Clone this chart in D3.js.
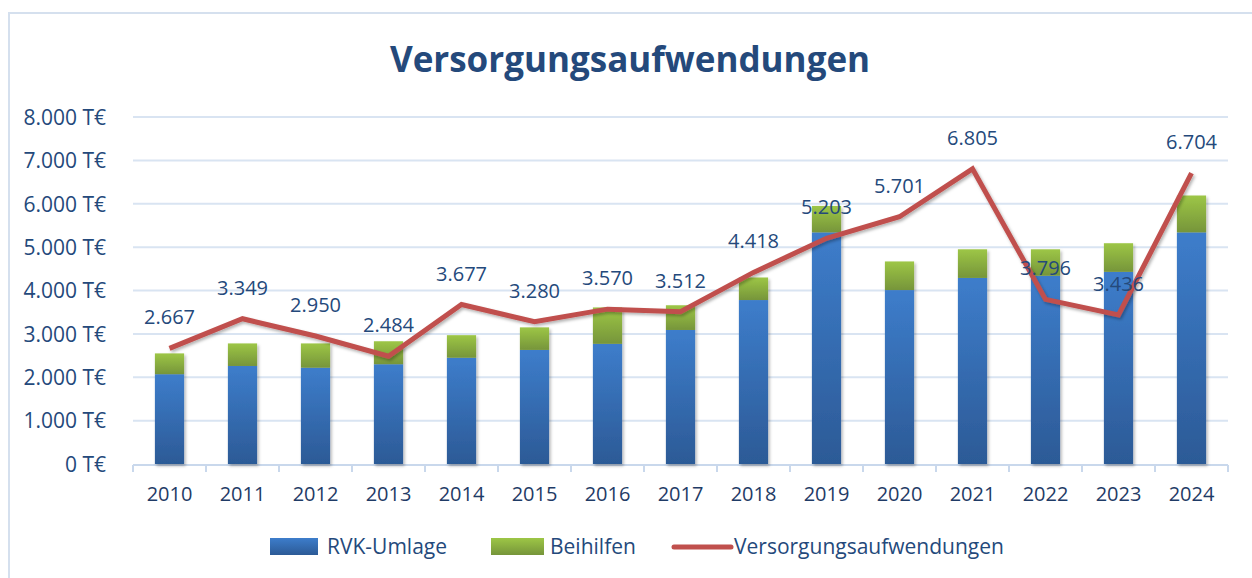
<!DOCTYPE html>
<html>
<head>
<meta charset="utf-8">
<script src="https://cdn.jsdelivr.net/npm/d3@7"></script>
<style>
  body { margin: 0; background: #fff; }
  svg { display: block; font-family: 'Open Sans', sans-serif; }
</style>
</head>
<body>
<svg id="chart"></svg>
<script>
const years = ['2010', '2011', '2012', '2013', '2014', '2015', '2016', '2017', '2018', '2019', '2020', '2021', '2022', '2023', '2024'];
const rvkUmlage = [2070, 2260, 2220, 2300, 2450, 2630, 2770, 3090, 3780, 5340, 4010, 4290, 4340, 4430, 5340];
const beihilfen = [480, 520, 560, 530, 520, 520, 840, 570, 520, 610, 660, 660, 610, 660, 850];
const versorgung = [2667, 3349, 2950, 2484, 3677, 3280, 3570, 3512, 4418, 5203, 5701, 6805, 3796, 3436, 6704];
const yTicks = [0, 1000, 2000, 3000, 4000, 5000, 6000, 7000, 8000];

const W = 1252, H = 578;
const svg = d3.select('#chart').attr('width', W).attr('height', H);
const navy = '#24497b';

const defs = svg.append('defs');
const gBlue = defs.append('linearGradient').attr('id', 'gBlue').attr('x1', 0).attr('y1', 0).attr('x2', 0).attr('y2', 1);
gBlue.append('stop').attr('offset', '0%').attr('stop-color', '#3d7dcb');
gBlue.append('stop').attr('offset', '100%').attr('stop-color', '#2c5a96');
const gGreen = defs.append('linearGradient').attr('id', 'gGreen').attr('x1', 0).attr('y1', 0).attr('x2', 0).attr('y2', 1);
gGreen.append('stop').attr('offset', '0%').attr('stop-color', '#9dc646');
gGreen.append('stop').attr('offset', '100%').attr('stop-color', '#76953a');
const shadow = defs.append('filter').attr('id', 'shadow').attr('x', '-20%').attr('y', '-20%').attr('width', '140%').attr('height', '140%');
shadow.append('feDropShadow').attr('dx', 1.5).attr('dy', 2).attr('stdDeviation', 1.5).attr('flood-color', '#000').attr('flood-opacity', 0.3);

// chart border
svg.append('rect').attr('x', 9).attr('y', 13).attr('width', W + 10).attr('height', H + 10)
  .attr('fill', 'none').attr('stroke', '#d5e0ee').attr('stroke-width', 2);

// title
svg.append('text').attr('x', 630).attr('y', 72).attr('text-anchor', 'middle')
  .attr('font-size', 35).attr('font-weight', 'bold').attr('fill', navy)
  .text('Versorgungsaufwendungen');

const plotL = 133, plotR = 1228, plotT = 117, plotB = 464;
const x = d3.scaleBand().domain(years).range([plotL, plotR]).paddingInner(0.6).paddingOuter(0.3);
const y = d3.scaleLinear().domain([0, 8000]).range([plotB, plotT]);

// gridlines
svg.append('g').selectAll('line').data(yTicks.slice(1)).enter().append('line')
  .attr('x1', plotL).attr('x2', plotR).attr('y1', d => y(d)).attr('y2', d => y(d))
  .attr('stroke', '#d9e4f2').attr('stroke-width', 2);

// y axis labels
const yAxis = svg.append('g').attr('transform', `translate(${plotL - 24},0)`)
  .call(d3.axisLeft(y).tickValues(yTicks).tickSize(0).tickFormat(d => d3.format(',')(d).replace(/,/g, '.') + ' T€'));
yAxis.select('.domain').remove();
yAxis.selectAll('text').attr('font-size', 21).attr('fill', navy).attr('font-family', 'Open Sans').attr('dy', '0.35em');

// x axis
svg.append('line').attr('x1', plotL).attr('x2', plotR).attr('y1', plotB + 1).attr('y2', plotB + 1)
  .attr('stroke', '#c9d8ec').attr('stroke-width', 2);
const step = x.step();
svg.append('g').selectAll('line').data(d3.range(years.length + 1)).enter().append('line')
  .attr('x1', i => plotL + i * step).attr('x2', i => plotL + i * step)
  .attr('y1', plotB + 1).attr('y2', plotB + 8)
  .attr('stroke', '#c9d8ec').attr('stroke-width', 2);
svg.append('g').selectAll('text').data(years).enter().append('text')
  .attr('x', d => x(d) + x.bandwidth() / 2).attr('y', 501)
  .attr('text-anchor', 'middle').attr('font-size', 20).attr('fill', '#1f3b66')
  .text(d => d);

// stacked bars
const bars = svg.append('g').attr('filter', 'url(#shadow)');
bars.selectAll('rect.rvk').data(years).enter().append('rect')
  .attr('x', d => x(d)).attr('width', x.bandwidth())
  .attr('y', (d, i) => y(rvkUmlage[i])).attr('height', (d, i) => y(0) - y(rvkUmlage[i]))
  .attr('fill', 'url(#gBlue)');
bars.selectAll('rect.bh').data(years).enter().append('rect')
  .attr('x', d => x(d)).attr('width', x.bandwidth())
  .attr('y', (d, i) => y(rvkUmlage[i] + beihilfen[i])).attr('height', (d, i) => y(rvkUmlage[i]) - y(rvkUmlage[i] + beihilfen[i]))
  .attr('fill', 'url(#gGreen)');

// line
const line = d3.line().x((d, i) => x(years[i]) + x.bandwidth() / 2).y(d => y(d));
svg.append('path').datum(versorgung)
  .attr('fill', 'none').attr('stroke', '#c0504d').attr('stroke-width', 5)
  .attr('stroke-linejoin', 'miter').attr('filter', 'url(#shadow)')
  .attr('d', line);

// data labels
svg.append('g').selectAll('text').data(versorgung).enter().append('text')
  .attr('x', (d, i) => x(years[i]) + x.bandwidth() / 2)
  .attr('y', d => y(d) - 24)
  .attr('text-anchor', 'middle').attr('font-size', 20).attr('fill', navy)
  .text(d => d3.format(',')(d).replace(/,/g, '.'));

// legend
const leg = svg.append('g');
leg.append('rect').attr('x', 270).attr('y', 538).attr('width', 48).attr('height', 17).attr('fill', 'url(#gBlue)');
leg.append('text').attr('x', 327).attr('y', 554).attr('font-size', 21).attr('fill', navy).text('RVK-Umlage');
leg.append('rect').attr('x', 491).attr('y', 538).attr('width', 53).attr('height', 17).attr('fill', 'url(#gGreen)');
leg.append('text').attr('x', 550).attr('y', 554).attr('font-size', 21).attr('fill', navy).text('Beihilfen');
leg.append('line').attr('x1', 674).attr('x2', 731).attr('y1', 547).attr('y2', 547)
  .attr('stroke', '#c0504d').attr('stroke-width', 5).attr('stroke-linecap', 'round');
leg.append('text').attr('x', 734).attr('y', 554).attr('font-size', 21).attr('fill', navy).text('Versorgungsaufwendungen');
</script>
</body>
</html>
